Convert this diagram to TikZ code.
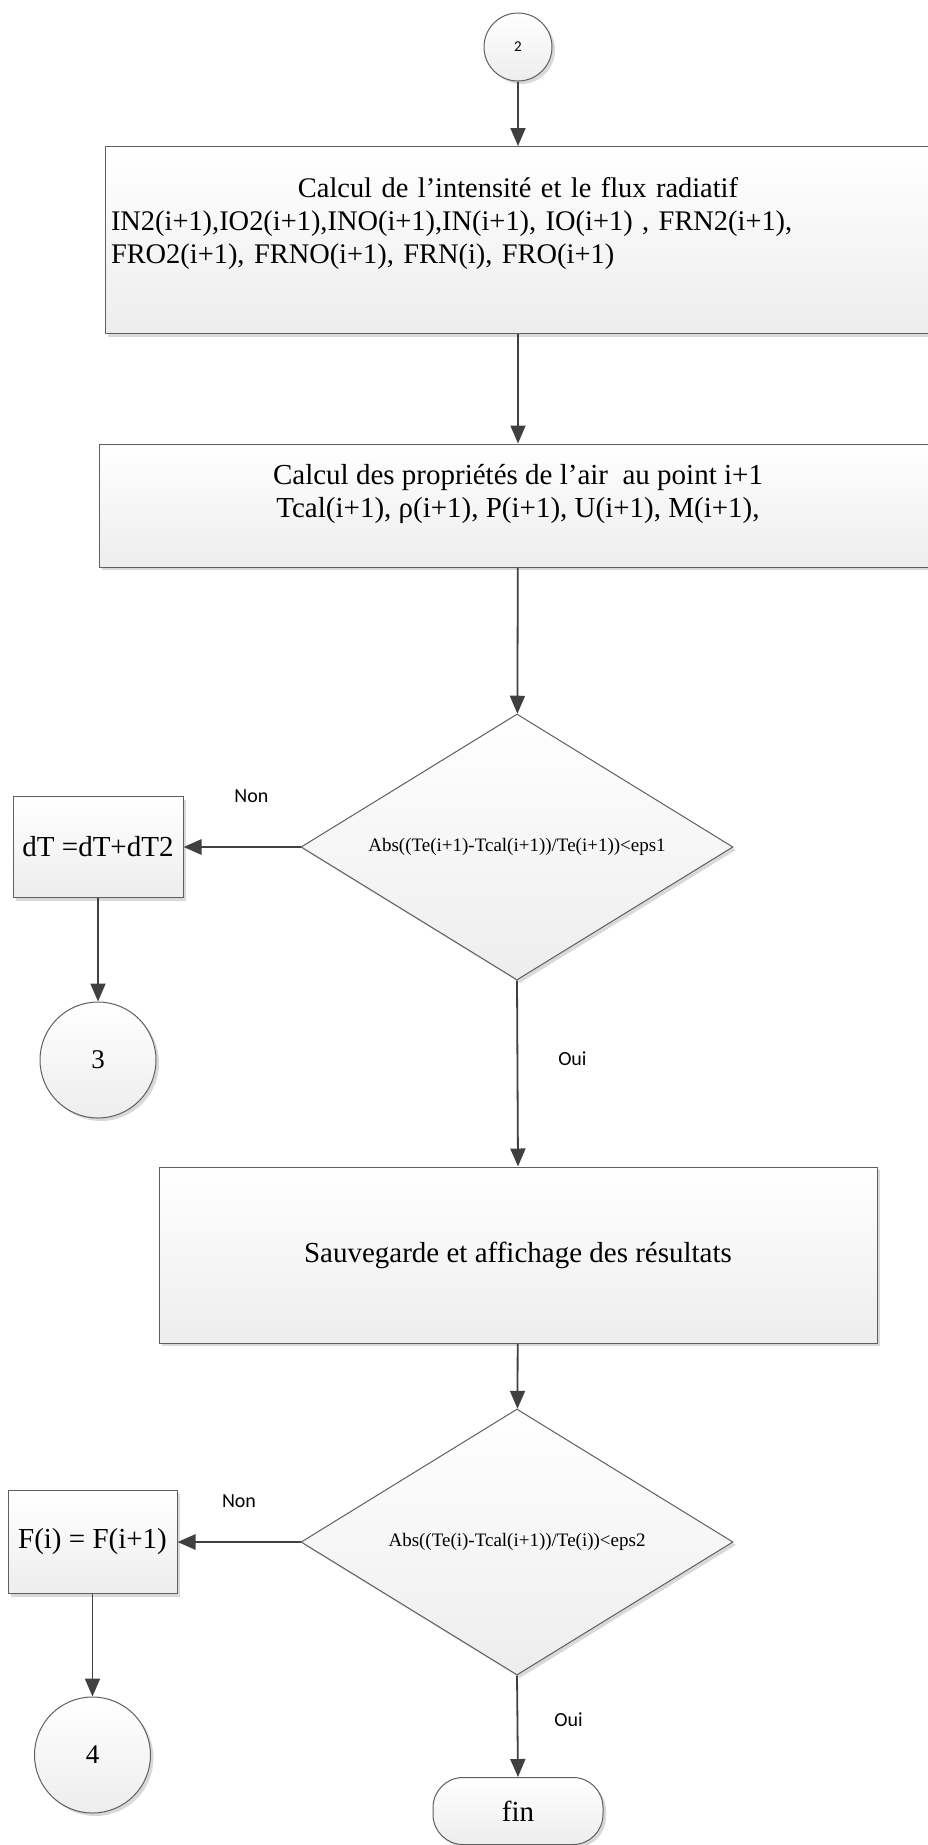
\documentclass[tikz,border=0pt]{standalone}
\usepackage{fontspec}
\setmainfont{Liberation Serif}
\newfontfamily\labelfont{Carlito}
\usetikzlibrary{arrows.meta, shapes.geometric, shadows, positioning}
\definecolor{linegray}{RGB}{64,64,64}
\definecolor{edgegray}{RGB}{95,95,95}
\tikzset{every node/.append style={align=center}}
\tikzset{
  boxfill/.style={top color=white, bottom color=gray!14, draw=edgegray, line width=1pt,
    drop shadow={shadow xshift=3pt, shadow yshift=-3pt, fill=gray!50, opacity=0.6}},
  procbox/.style={boxfill, rectangle, inner sep=0pt, font=\fontsize{29}{33}\selectfont},
  testbox/.style={boxfill, diamond, aspect=1.62, inner sep=0pt,
    minimum width=432pt, minimum height=266pt, font=\fontsize{19}{22}\selectfont},
  connbox/.style={boxfill, circle, inner sep=0pt},
  endbox/.style={boxfill, rectangle, rounded corners=30pt, inner sep=0pt,
    font=\fontsize{29}{33}\selectfont},
  flow/.style={linegray, line width=1.8pt, -{Triangle[width=15pt,length=18pt]}},
  flowside/.style={flow, line width=2.8pt},
  lbl/.style={font=\labelfont\fontsize{20}{24}\selectfont, text=black}
}

\begin{document}
\begin{tikzpicture}[x=1pt, y=-1pt]
\useasboundingbox (0,0) rectangle (927,1845);

% ── Main column ──────────────────────────────────────────────────────────────
\node[connbox, minimum size=68pt, font=\labelfont\fontsize{15}{18}\selectfont] (c2) at (518,47) {2};

\node[procbox, minimum width=826pt, minimum height=187pt, text width=814pt,
      inner xsep=6pt, align=left, font=\fontsize{28.4}{33}\selectfont] (flux) at (518,240)
  {\makebox[\linewidth]{Calcul de l’intensité et le flux radiatif}\\
   IN2(i+1),IO2(i+1),INO(i+1),IN(i+1), IO(i+1) , FRN2(i+1),\\
   FRO2(i+1), FRNO(i+1), FRN(i), FRO(i+1)\\[7pt]\mbox{}};

\node[procbox, minimum width=838pt, minimum height=123pt] (props) at (518,505.5)
  {Calcul des propriétés de l’air\ \ au point i+1\\
   Tcal(i+1), ρ(i+1), P(i+1), U(i+1), M(i+1),\\[-3pt]\mbox{}};

\node[testbox] (test1) at (517,847) {Abs((Te(i+1)-Tcal(i+1))/Te(i+1))<eps1};

\node[procbox, minimum width=718pt, minimum height=176pt] (save) at (518,1255)
  {Sauvegarde et affichage des résultats};

\node[testbox] (test2) at (517,1542) {Abs((Te(i)-Tcal(i+1))/Te(i))<eps2};

\node[endbox, minimum width=170pt, minimum height=67pt] (fin) at (518,1811) {fin};

% ── Left branches ────────────────────────────────────────────────────────────
\node[procbox, minimum width=170pt, minimum height=101pt] (dT) at (98,847) {dT =dT+dT2};
\node[connbox, minimum size=116pt, font=\fontsize{27}{30}\selectfont] (c3) at (98,1060) {3};

\node[procbox, minimum width=169pt, minimum height=103pt] (Fi) at (92.5,1542) {F(i) = F(i+1)};
\node[connbox, minimum size=116pt, font=\fontsize{27}{30}\selectfont] (c4) at (92.5,1755) {4};

% ── Connectors ───────────────────────────────────────────────────────────────
\draw[flow] (c2) -- (flux);
\draw[flow] (flux) -- (props);
\draw[flow] (props) -- (test1);
\draw[flowside] (test1.west) -- node[lbl, pos=0.42, yshift=51pt] (non1) {Non} (dT.east);
\draw[flow] (dT) -- (c3);
\draw[flow] (test1.south) -- node[lbl, pos=0.42, xshift=55pt] (oui1) {Oui} (save.north);
\draw[flow] (save) -- (test2);
\draw[flowside] (test2.west) -- node[lbl, pos=0.5, yshift=41pt] (non2) {Non} (Fi.east);
\draw[flow] (Fi) -- (c4);
\draw[flow] (test2.south) -- node[lbl, pos=0.44, xshift=51pt] (oui2) {Oui} (fin.north);

\end{tikzpicture}
\end{document}
